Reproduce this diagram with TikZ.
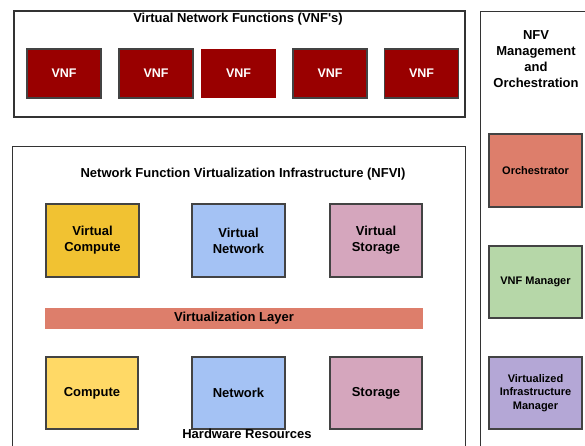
\documentclass[tikz,border=0pt]{standalone}
\usepackage{fontspec}
\setmainfont{Liberation Sans}
\definecolor{vnfred}{HTML}{990000}
\definecolor{edgegray}{HTML}{434343}
\definecolor{framegray}{HTML}{333333}
\definecolor{vcompc}{HTML}{F1C232}
\definecolor{compc}{HTML}{FFD966}
\definecolor{netc}{HTML}{A4C2F4}
\definecolor{storc}{HTML}{D5A6BD}
\definecolor{layerc}{HTML}{DD7E6B}
\definecolor{vnfmc}{HTML}{B6D7A8}
\definecolor{vimc}{HTML}{B4A7D6}
\begin{document}
\begin{tikzpicture}[x=1pt,y=-1pt,
  frame/.style={draw=framegray,line width=1.4pt},
  vnfbox/.style={fill=vnfred,draw=edgegray,line width=1.4pt,text=white,font=\fontsize{12.5}{14}\selectfont\bfseries},
  resbox/.style={draw=edgegray,line width=1.4pt,align=center,font=\fontsize{13}{16}\selectfont\bfseries},
  manobox/.style={draw=edgegray,line width=1.4pt,align=center,font=\fontsize{11}{13.5}\selectfont\bfseries},
  title/.style={font=\fontsize{13}{16}\selectfont\bfseries,align=center,inner sep=0pt}]
\useasboundingbox (0,0) rectangle (585,445);
\clip (0,0) rectangle (585,445);
% VNF frame
\node[frame,minimum width=451pt,minimum height=106pt,inner sep=0pt] (vnfouter) at (239.5,64) {};
\node[title] (vnftitle) at (238,19.5) {Virtual Network Functions (VNF\textquotesingle s)};
\foreach \i/\cx in {1/64,2/156,4/330,5/421.5}{
  \node[vnfbox,minimum width=74pt,minimum height=49pt,inner sep=0pt] (vnf\i) at (\cx,73.5) {VNF};
}
\node[vnfbox,draw=none,minimum width=75pt,minimum height=49pt,inner sep=0pt] (vnf3) at (238.5,73.5) {VNF};
% MANO frame
\node[frame,minimum width=120pt,minimum height=450pt,inner sep=0pt,anchor=north west] (mano) at (480,11) {};
\node[title] (manotitle) at (536,59.5) {NFV\\Management\\and\\Orchestration};
\node[manobox,fill=layerc,minimum width=93pt,minimum height=73pt,inner sep=0pt] (orch) at (535.5,170.5) {Orchestrator};
\node[manobox,fill=vnfmc,minimum width=93pt,minimum height=72pt,inner sep=0pt] (vnfm) at (535.5,282) {VNF Manager};
\node[manobox,fill=vimc,minimum width=93pt,minimum height=72pt,inner sep=0pt] (vim) at (535.5,393) {Virtualized\\Infrastructure\\Manager};
% NFVI frame
\node[frame,minimum width=453pt,minimum height=320pt,inner sep=0pt,anchor=north west] (nfvi) at (12,146) {};
\node[title] (nfvititle) at (243,174) {Network Function Virtualization Infrastructure (NFVI)};
\node[resbox,fill=vcompc,minimum width=93pt,minimum height=73pt,inner sep=0pt] (vcomp) at (92.5,240.5) {Virtual\\Compute};
\node[resbox,fill=netc,minimum width=93pt,minimum height=73pt,inner sep=0pt] (vnet) at (238.5,240.5) {Virtual\\Network};
\node[resbox,fill=storc,minimum width=92pt,minimum height=73pt,inner sep=0pt] (vstor) at (376,240.5) {Virtual\\Storage};
\node[resbox,draw=none,fill=layerc,minimum width=378pt,minimum height=21pt,inner sep=0pt] (vlayer) at (234,318.5) {Virtualization Layer};
\node[resbox,fill=compc,minimum width=92pt,minimum height=72pt,inner sep=0pt] (comp) at (92,393) {Compute};
\node[resbox,fill=netc,minimum width=93pt,minimum height=72pt,inner sep=0pt] (net) at (238.5,393) {Network};
\node[resbox,fill=storc,minimum width=92pt,minimum height=72pt,inner sep=0pt] (stor) at (376,393) {Storage};
\node[title] (hwlabel) at (247,434) {Hardware Resources};
\end{tikzpicture}
\end{document}
